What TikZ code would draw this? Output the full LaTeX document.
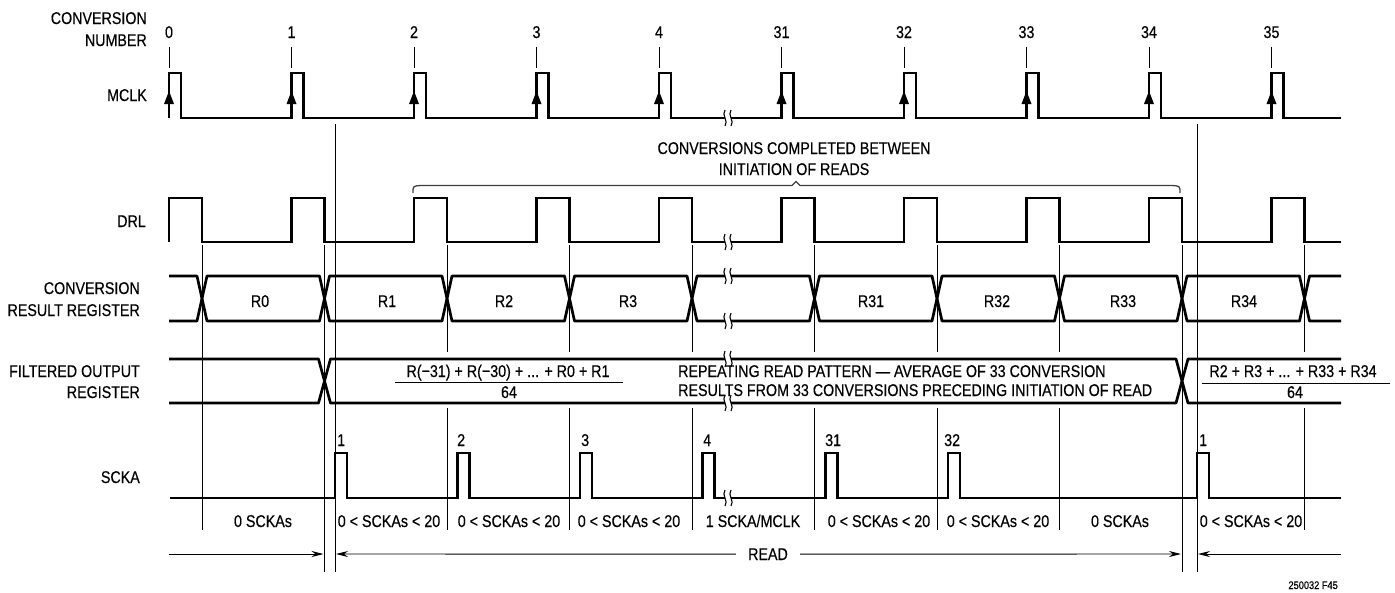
\documentclass[tikz,border=0pt]{standalone}
\usepackage{fontspec}
\setmainfont{Liberation Sans}[FakeStretch=0.84,FakeBold=0.35]
\usetikzlibrary{arrows.meta}
\newcommand{\brkmark}[2]{%
 \fill[white] ({#1-3},{#2-2.6}) rectangle ({#1+3},{#2+2.6});
 \draw[line width=1.1pt] ({#1-3},{#2-8}) .. controls ({#1-7},{#2-3}) and ({#1+1},{#2+3}) .. ({#1-3},{#2+8});
 \draw[line width=1.1pt] ({#1+3},{#2-8}) .. controls ({#1-1},{#2-3}) and ({#1+7},{#2+3}) .. ({#1+3},{#2+8});
}
\begin{document}
\begin{tikzpicture}[x=1pt,y=-1pt,
  every node/.style={inner sep=0pt, font=\fontsize{17}{20}\selectfont},
  sig/.style={line width=2.7pt, line join=miter},
  bus/.style={line width=2.7pt, line join=round},
  vl/.style={line width=0.9pt},
  arr/.style={line width=0.9pt, -{Stealth[length=12pt,width=6pt]}},
  small/.style={font=\fontsize{11}{13}\selectfont}]
\useasboundingbox (0,0) rectangle (1395,592);

% ---------- left labels ----------
\node[anchor=base east] (lconv1) at (147,24) {CONVERSION};
\node[anchor=base east] (lconv2) at (147,46) {NUMBER};
\node[anchor=base east] (lmclk) at (147,101) {MCLK};
\node[anchor=base east] (ldrl) at (146,227) {DRL};
\node[anchor=base east] (lcrr1) at (140,294) {CONVERSION};
\node[anchor=base east] (lcrr2) at (140,316) {RESULT REGISTER};
\node[anchor=base east] (lfor1) at (140,377) {FILTERED OUTPUT};
\node[anchor=base east] (lfor2) at (140,398) {REGISTER};
\node[anchor=base east] (lscka) at (140,483) {SCKA};

% ---------- conversion numbers & ticks ----------
\foreach \x/\n in {169/0,291.5/1,414/2,536.5/3,659/4,781.5/31,904/32,1026.5/33,1149/34,1271.5/35}{
  \node[anchor=base] (cn\n) at (\x,38) {\n};
  \draw[vl] (\x,47) -- (\x,68);
}

% ---------- MCLK ----------
\draw[sig] (169,118) foreach \x in {169,291.5,414,536.5,659,781.5,904,1026.5,1149,1271.5}{ -- (\x,118) -- (\x,73) -- ({\x+12},73) -- ({\x+12},118)} -- (1341,118);
\foreach \x in {169,291.5,414,536.5,659,781.5,904,1026.5,1149,1271.5}
  \fill ({\x},91) -- ({\x-5},104) -- ({\x+5},104) -- cycle;
\brkmark{728}{118}

% ---------- DRL ----------
\draw[sig] (169,242) foreach \x in {169,291.5,414,536.5,659,781.5,904,1026.5,1149,1271.5}{ -- (\x,242) -- (\x,198) -- ({\x+33},198) -- ({\x+33},242)} -- (1341,242);
\brkmark{728}{242}

% ---------- brace ----------
\draw[line width=1.3pt, black!75] (413,193) .. controls (413,186) .. (421,185.5) -- (792,185.5) -- (796,181.5) -- (800,185.5) -- (1172,185.5) .. controls (1180,186) .. (1180,193);
\node[anchor=base] (brc1) at (794,154) {CONVERSIONS COMPLETED BETWEEN};
\node[anchor=base] (brc2) at (794,175) {INITIATION OF READS};

% ---------- Conversion result register ----------
\draw[bus] (169,276) -- (197,276) -- (202,298.5) -- (197,321) -- (169,321);
\foreach \a/\b in {202/324.5,324.5/447,447/569.5,569.5/692,692/814.5,814.5/937,937/1059.5,1059.5/1182,1182/1304.5}
  \draw[bus] (\a,298.5) -- ({\a+5},276) -- ({\b-5},276) -- (\b,298.5) -- ({\b-5},321) -- ({\a+5},321) -- cycle;
\draw[bus] (1341,276) -- (1309.5,276) -- (1304.5,298.5) -- (1309.5,321) -- (1341,321);
\brkmark{728}{276}
\brkmark{728}{321}
\foreach \x/\t in {260/R0,387/R1,504/R2,628/R3,871/R31,997/R32,1123/R33,1244/R34}
  \node[anchor=base] (crr\t) at (\x,307) {\t};

% ---------- Filtered output register ----------
\draw[bus] (169,359) -- (318.5,359) -- (324.5,381) -- (318.5,403) -- (169,403);
\draw[bus] (324.5,381) -- (330.5,359) -- (1176,359) -- (1182,381) -- (1176,403) -- (330.5,403) -- cycle;
\draw[bus] (1341,359) -- (1188,359) -- (1182,381) -- (1188,403) -- (1341,403);
\brkmark{728}{359}
\brkmark{728}{403}

\node[anchor=base] (f1n) at (508,377) {R(−31) + R(−30) + ... + R0 + R1};
\draw[vl] (395,382) -- (623,382);
\node[anchor=base] (f1d) at (509,398) {64};
\node[anchor=base west] (rep1) at (678,377) {REPEATING READ PATTERN — AVERAGE OF 33 CONVERSION};
\node[anchor=base west] (rep2) at (678,396) {RESULTS FROM 33 CONVERSIONS PRECEDING INITIATION OF READ};
\node[anchor=base] (f2n) at (1293,377) {R2 + R3 + ... + R33 + R34};
\draw[vl] (1202,383) -- (1390,383);
\node[anchor=base] (f2d) at (1295,398) {64};

% ---------- SCKA ----------
\draw[sig] (170,498) foreach \x in {335,457.5,580,702.5,825.5,948,1197}{ -- (\x,498) -- (\x,453) -- ({\x+12},453) -- ({\x+12},498)} -- (1341,498);
\brkmark{728}{498}
\foreach \x/\t/\k in {337/1/a,457/2/b,581/3/c,703/4/d,825/31/e,944/32/f,1199/1/g}
  \node[anchor=base west] (sn\k) at (\x,446) {\t};

% ---------- vertical reference lines ----------
\draw[vl] (202,245) -- (202,530);
\foreach \x in {447,569.5,692,814.5,937,1059.5,1304.5}{
  \draw[vl] (\x,245) -- (\x,352);
  \draw[vl] (\x,408) -- (\x,530);
}
\draw[vl] (324.5,245) -- (324.5,572);
\draw[vl] (1182,245) -- (1182,572);
\draw[vl] (335,124) -- (335,572);
\draw[vl] (1197,124) -- (1197,572);

% ---------- SCKA count labels ----------
\foreach \x/\t/\k in {263/{0 SCKAs}/a,389/{0 < SCKAs < 20}/b,509/{0 < SCKAs < 20}/c,629/{0 < SCKAs < 20}/d,753/{1 SCKA/MCLK}/e,879/{0 < SCKAs < 20}/f,998/{0 < SCKAs < 20}/g,1120/{0 SCKAs}/h,1251/{0 < SCKAs < 20}/i}
  \node[anchor=base] (cnt\k) at (\x,527) {\t};

% ---------- READ arrows ----------
\coordinate (ra0) at (169,554);
\coordinate (ra1) at (323.5,554);
\coordinate (rb0) at (336,554);
\coordinate (rb1) at (1181,554);
\coordinate (rc0) at (1198,554);
\coordinate (rc1) at (1341,554);
\node[anchor=base] (read) at (768,560) {READ};
\draw[arr] (ra0) -- (ra1);
\draw[arr] ([xshift=-12pt]read.west) -- (rb0);
\draw[arr] ([xshift=12pt]read.east) -- (rb1);
\draw[arr] (rc1) -- (rc0);

\node[anchor=base east, small] (fig) at (1338,589) {250032 F45};
\end{tikzpicture}
\end{document}
